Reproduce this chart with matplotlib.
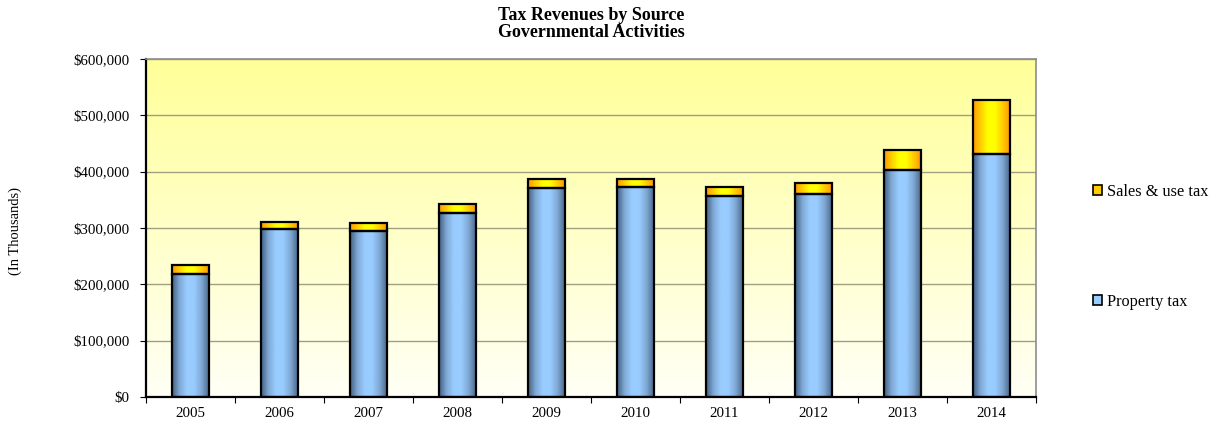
import numpy as np
import matplotlib
matplotlib.use("Agg")
import matplotlib.pyplot as plt
from matplotlib.colors import LinearSegmentedColormap
from matplotlib.ticker import FuncFormatter, FixedLocator
from matplotlib.patches import Patch

years = ["2005", "2006", "2007", "2008", "2009", "2010", "2011", "2012", "2013", "2014"]
property_tax = [218300, 297700, 294700, 326600, 371000, 372200, 356200, 360400, 403000, 431400]
sales_use_tax = [16000, 13500, 13600, 15400, 16500, 14200, 16600, 18900, 36000, 95300]

plt.rcParams['font.family'] = ['Liberation Serif', 'DejaVu Serif']

fig = plt.figure(figsize=(12.12, 4.26), dpi=100)
ax = fig.add_axes([146/1212, 1-397/426, (1036-146)/1212, (397-59)/426])

x = np.arange(len(years))
w = 0.405

# background gradient
bg = LinearSegmentedColormap.from_list("bg", ["#FFFFF6", "#FFFF99"])
grad = np.linspace(0, 1, 256).reshape(-1, 1)
ax.imshow(grad, cmap=bg, aspect="auto", extent=[0, 1, 0, 1], origin="lower",
          transform=ax.transAxes, zorder=0)

b1 = ax.bar(x, property_tax, width=w, color="none", edgecolor="black", linewidth=1.6, zorder=3,
            label="Property tax")
b2 = ax.bar(x, sales_use_tax, width=w, bottom=property_tax, color="none", edgecolor="black",
            linewidth=1.6, zorder=3, label="Sales & use tax")

blue = LinearSegmentedColormap.from_list("bl", ["#3F5F80", "#7FA8D4", "#99CCFF", "#99CCFF", "#7FA8D4", "#4A6A8A"])
orng = LinearSegmentedColormap.from_list("or", ["#FF9900", "#FFCC00", "#FFFF00", "#FFFF00", "#FFCC00", "#FF9900"])
hgrad = np.linspace(0, 1, 256).reshape(1, -1)
for bars, cm in ((b1, blue), (b2, orng)):
    for r in bars:
        x0, y0 = r.get_x(), r.get_y()
        im = ax.imshow(hgrad, cmap=cm, aspect="auto",
                       extent=[x0, x0 + r.get_width(), y0, y0 + r.get_height()], zorder=2)
        im.set_clip_path(r)

ax.set_xlim(-0.5, len(years) - 0.5)
ax.set_ylim(0, 600000)
ax.set_yticks(np.arange(0, 600001, 100000))
ax.yaxis.set_major_formatter(FuncFormatter(lambda v, p: "${:,.0f}".format(v)))
ax.set_xticks(x)
ax.set_xticklabels(years)
ax.xaxis.set_minor_locator(FixedLocator(np.arange(-0.5, len(years), 1.0)))
ax.tick_params(axis="x", which="major", length=0, labelsize=10.7, pad=7)
ax.tick_params(axis="x", which="minor", length=4, width=0.8, direction="out")
ax.tick_params(axis="y", length=4, width=0.8, direction="out", labelsize=10.7, pad=8)

ax.grid(axis="y", color="#A09F80", linewidth=1.0, zorder=1)
ax.set_axisbelow(True)
for s in ("top", "right"):
    ax.spines[s].set_color("#8C8C8C")
    ax.spines[s].set_linewidth(1.2)
ax.spines["left"].set_linewidth(1.6)
ax.spines["bottom"].set_linewidth(1.6)

fig.text(15/1212, 1-231/426, "(In Thousands)", rotation=90, va="center", ha="center", fontsize=10.5)
fig.text(591/1212, 1-24/426, "Tax Revenues by Source\nGovernmental Activities", ha="center", va="center",
         fontsize=13, fontweight="bold", linespacing=1.0)

handles = [Patch(facecolor="#FFCC00", edgecolor="black", linewidth=1.2),
           Patch(facecolor="#99CCFF", edgecolor="black", linewidth=1.2)]
fig.legend(handles, ["Sales & use tax", "Property tax"], loc="center left",
           bbox_to_anchor=(1082/1212, 1-247/426), frameon=False, fontsize=11.7,
           handlelength=0.55, handleheight=0.55, handletextpad=0.3, labelspacing=5.8,
           borderpad=0.2)

fig.savefig("out.png", dpi=100)
